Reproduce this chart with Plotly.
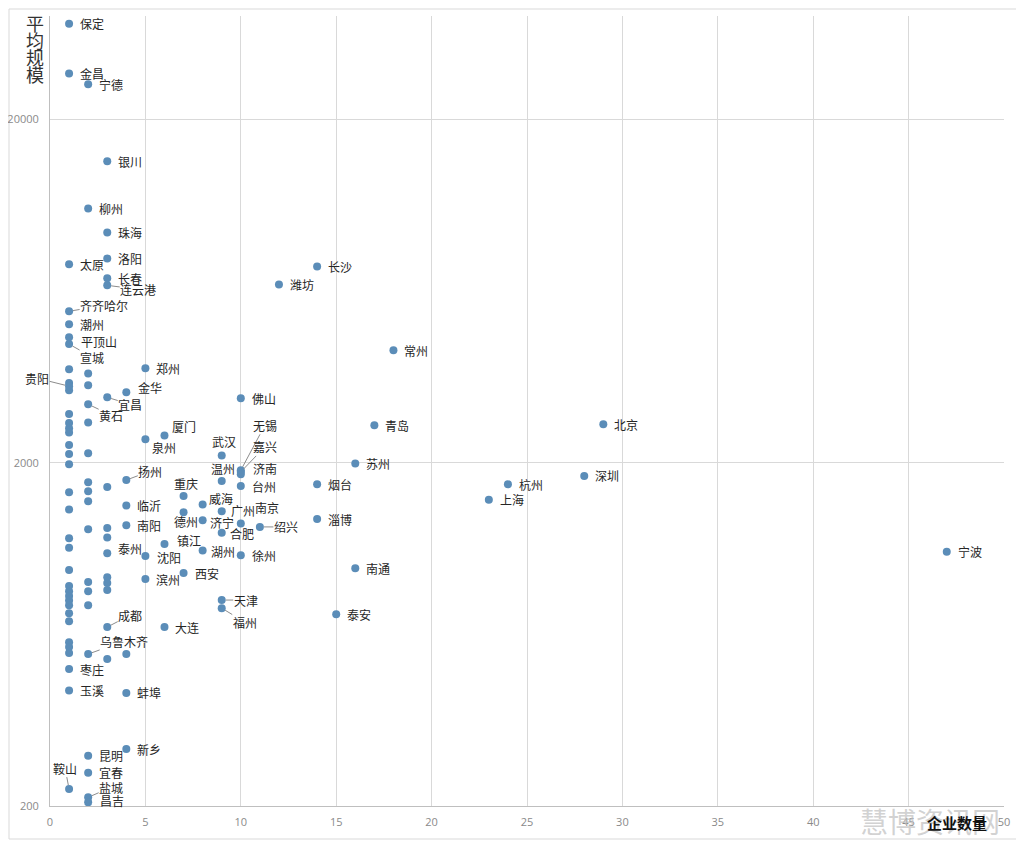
import math
import plotly.graph_objects as go

# ---------------- data ----------------
city = ["保定", "金昌", "宁德", "银川", "柳州", "珠海", "洛阳", "太原", "长沙", "长春",
        "潍坊", "连云港", "齐齐哈尔", "潮州", "平顶山", "宣城", "常州", "郑州", "贵阳", "金华",
        "宜昌", "佛山", "黄石", "青岛", "北京", "厦门", "泉州", "武汉", "无锡", "嘉兴",
        "苏州", "济南", "温州", "扬州", "深圳", "杭州", "烟台", "台州", "重庆", "上海",
        "威海", "临沂", "广州", "德州", "淄博", "济宁", "南京", "绍兴", "南阳", "合肥",
        "镇江", "湖州", "泰州", "徐州", "沈阳", "宁波", "南通", "西安", "滨州", "天津",
        "福州", "泰安", "大连", "成都", "乌鲁木齐", "枣庄", "玉溪", "蚌埠", "新乡", "昆明",
        "宜春", "鞍山", "盐城", "昌吉"]
firms = [1, 1, 2, 3, 2, 3, 3, 1, 14, 3,
         12, 3, 1, 1, 1, 1, 18, 5, 1, 4,
         3, 10, 2, 17, 29, 6, 5, 9, 10, 10,
         16, 10, 9, 4, 28, 24, 14, 10, 7, 23,
         8, 4, 9, 7, 14, 8, 10, 11, 4, 9,
         6, 8, 3, 10, 5, 47, 16, 7, 5, 9,
         9, 15, 6, 3, 2, 1, 1, 4, 4, 2,
         2, 1, 2, 2]
avg_size = [38000, 27200, 25300, 15100, 11000, 9370, 7870, 7570, 7460, 6890,
            6610, 6570, 5520, 5060, 4640, 4430, 4250, 3770, 3340, 3210,
            3100, 3080, 2960, 2570, 2590, 2400, 2340, 2100, 1900, 1880,
            1990, 1850, 1770, 1780, 1830, 1730, 1730, 1710, 1600, 1560,
            1510, 1500, 1445, 1435, 1370, 1360, 1330, 1300, 1315, 1250,
            1160, 1110, 1090, 1075, 1070, 1100, 986, 954, 916, 796,
            754, 724, 664, 664, 554, 501, 434, 427, 293, 280,
            250, 224, 212, 205]

# unlabeled cities
other_firms = [1] * 25 + [2] * 11 + [3] * 7 + [4]
other_size = [3740, 3410, 3250, 2770, 2610, 2520, 2450, 2250, 2120, 1980,
              1640, 1460, 1205, 1130, 973, 874, 845, 818, 793, 769,
              729, 691, 600, 581, 558,
              3640, 3360, 2620, 2130, 1755, 1650, 1545, 1280, 898, 845, 769,
              1700, 1290, 1210, 928, 892, 851, 536,
              554]

x_ticks = [0, 5, 10, 15, 20, 25, 30, 35, 40, 45, 50]
y_ticks = [200, 2000, 20000]

# ---------------- label placement (pixels: text left edge, vertical offset, leader) ----
label_pos = {
    "连云港": (13, 4, True), "齐齐哈尔": (11, -6, True), "平顶山": (11, 4, False),
    "宣城": (11, 13, True), "贵阳": (-44, -8, True), "金华": (11, -5, False),
    "宜昌": (11, 7, True), "黄石": (11, 11, True), "厦门": (7, -9, False),
    "泉州": (6, 8, False), "武汉": (-11, -14, False), "无锡": (12, -45, True),
    "嘉兴": (12, -25, True), "济南": (11, -6, False), "温州": (-12, -12, False),
    "扬州": (12, -9, True), "重庆": (-11, -12, False), "威海": (5, -6, False),
    "广州": (8, -1, False), "南京": (13, -16, False), "德州": (-11, 9, False),
    "济宁": (6, 2, False), "绍兴": (14, 0, True), "合肥": (7, 1, False),
    "镇江": (12, -3, False), "泰州": (10, -5, False), "湖州": (7, 1, False),
    "沈阳": (11, 2, False), "天津": (12, 0, True), "福州": (11, 14, True),
    "成都": (11, -12, True), "乌鲁木齐": (12, -13, True), "鞍山": (-16, -21, True),
    "盐城": (11, -10, True), "昌吉": (11, -2, False),
}
CHAR_W = 12
label_font = dict(family="Noto Sans CJK SC", size=12, color="#262626")

fig = go.Figure()
fig.add_trace(go.Scatter(
    x=other_firms + firms, y=other_size + avg_size, mode="markers",
    marker=dict(color="#5B8DB8", size=8), hoverinfo="skip", showlegend=False))

annotations = []
for name, f, s in zip(city, firms, avg_size):
    dx, dy, leader = label_pos.get(name, (10, 0, False))
    if leader:
        cx = dx + len(name) * CHAR_W / 2
        annotations.append(dict(
            x=f, y=math.log10(s), xref="x", yref="y", text=name,
            showarrow=True, arrowhead=0, arrowwidth=1, arrowcolor="#8c8c8c",
            ax=cx, ay=dy, standoff=4, xanchor="center", yanchor="middle",
            font=label_font, borderpad=0))
    else:
        annotations.append(dict(
            x=f, y=math.log10(s), xref="x", yref="y", text=name,
            showarrow=False, xanchor="left", yanchor="middle",
            xshift=dx, yshift=-dy, font=label_font, borderpad=0))

# The page puts the figure 8px in from the window corner.
# Plot area in window pixels: x 50..1004, y 16..806
def px(xp):
    return (xp - 50) / 954

def py(yp):
    return (806 - yp) / 790

for i, ch in enumerate("平均规模"):
    annotations.append(dict(
        x=px(35), y=py(23 + 17 * i), xref="paper", yref="paper", text=ch,
        showarrow=False, xanchor="center", yanchor="middle",
        font=dict(family="Noto Sans CJK SC", size=18, color="#333333")))

annotations.append(dict(
    x=px(930), y=py(821), xref="paper", yref="paper", text="慧博资讯网",
    showarrow=False, xanchor="center", yanchor="middle",
    font=dict(family="Noto Sans CJK SC", size=28, color="rgba(190,190,190,0.7)")))
annotations.append(dict(
    x=px(957), y=py(823), xref="paper", yref="paper", text="<b>企业数量</b>",
    showarrow=False, xanchor="center", yanchor="middle",
    font=dict(family="Noto Sans CJK SC", size=15, color="#111111")))

fig.update_layout(
    width=1016, height=834,
    margin=dict(l=42, r=20, t=8, b=36, pad=0, autoexpand=False),
    paper_bgcolor="white", plot_bgcolor="white",
    annotations=annotations,
    shapes=[dict(type="rect", xref="paper", yref="paper",
                 x0=px(9), x1=px(1019), y0=py(839), y1=py(9),
                 line=dict(color="#d9d9d9", width=1), layer="below")],
    xaxis=dict(range=[0, 50], tickvals=x_ticks, showgrid=True, gridcolor="#d9d9d9",
               gridwidth=1, zeroline=False, showline=True, linecolor="#bfbfbf",
               ticks="", ticklabelstandoff=6, automargin=False,
               tickfont=dict(family="Open Sans", size=11, color="#8a8a8a")),
    yaxis=dict(type="log", range=[math.log10(200), math.log10(40000)],
               tickvals=y_ticks, ticktext=[str(v) for v in y_ticks],
               showgrid=True, gridcolor="#d9d9d9", gridwidth=1, zeroline=False,
               showline=True, linecolor="#bfbfbf", ticks="", ticklabelstandoff=8,
               automargin=False,
               tickfont=dict(family="Open Sans", size=11, color="#8a8a8a")),
)

fig.write_html("out.html")
